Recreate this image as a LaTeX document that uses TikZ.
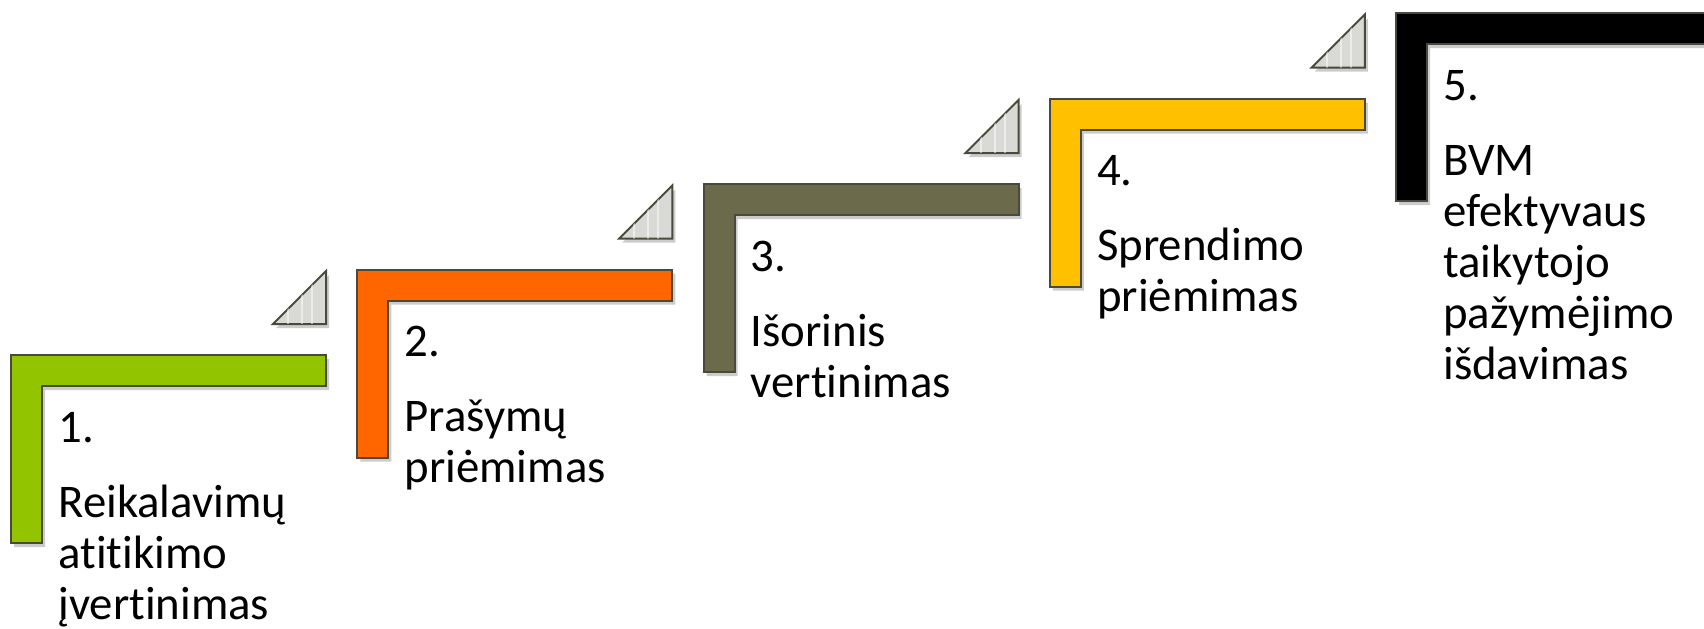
\documentclass[tikz,border=0pt]{standalone}
\usepackage{fontspec}
\setmainfont[Ligatures=NoCommon]{Carlito}
\usepackage{tikz}
\usetikzlibrary{positioning,shadows}

\definecolor{stepgreen}{HTML}{92C400}
\definecolor{steporange}{HTML}{FF6600}
\definecolor{stepolive}{HTML}{6B6B4B}
\definecolor{stepyellow}{HTML}{FFC000}
\definecolor{stepblack}{HTML}{000000}
\definecolor{edgegray}{HTML}{4A4A3C}
\definecolor{trigray}{HTML}{D9DAD5}

\tikzset{
  stepL/.style={draw=edgegray, line width=1pt, fill=#1,
    drop shadow={shadow xshift=1.5pt, shadow yshift=-2pt, opacity=.4}},
  stepTri/.style={draw=edgegray, line width=1pt, fill=trigray,
    drop shadow={shadow xshift=1.5pt, shadow yshift=-2pt, opacity=.4}},
  steptext/.style={anchor=base west, inner sep=0pt,
    font=\fontsize{23.4pt}{25.5pt}\selectfont}
}

\begin{document}
\begin{tikzpicture}[x=0.5pt,y=0.5pt,yscale=-1,xscale=1]
\useasboundingbox (0,0) rectangle (1704,628);

%Stairs: L shapes with number and text
\foreach \i/\col/\lbl in {1/stepgreen/{Reikalavimų\\atitikimo\\įvertinimas},
                          2/steporange/{Prašymų\\priėmimas},
                          3/stepolive/{Išorinis\\vertinimas},
                          4/stepyellow/{Sprendimo\\priėmimas},
                          5/stepblack/{BVM\\efektyvaus\\taikytojo\\pažymėjimo\\išdavimas}}{
  \pgfmathsetmacro{\xo}{11+346.25*(\i-1)}
  \pgfmathsetmacro{\yo}{355-85.5*(\i-1)}
  \coordinate (step\i) at (\xo,\yo);
  \draw[stepL=\col] (step\i) -- ++(315,0) -- ++(0,31) -- ++(-284,0)
     -- ++(0,157) -- ++(-31,0) -- cycle;
  % Text Node
  \node[steptext] (num\i) at (\xo+47,\yo+87) {\i.};
  % Text Node
  \node[steptext] (txt\i) at (\xo+47,\yo+162)
     {\parbox[t]{150pt}{\raggedright\lbl}};
}

%Triangles above the bar ends
\foreach \i in {1,...,4}{
  \coordinate (tri\i) at ([shift={(315,-31)}]step\i);
  \draw[stepTri] (tri\i) -- ++(-53,0) -- ++(53,-53) -- cycle;
  \begin{scope}
    \clip (tri\i) -- ++(-53,0) -- ++(53,-53) -- cycle;
    \foreach \d in {14,24,38}
      \draw[white, opacity=.5, line width=1pt] ([xshift=-\d*0.5pt]tri\i) -- ++(0,-53);
  \end{scope}
}
\end{tikzpicture}
\end{document}
